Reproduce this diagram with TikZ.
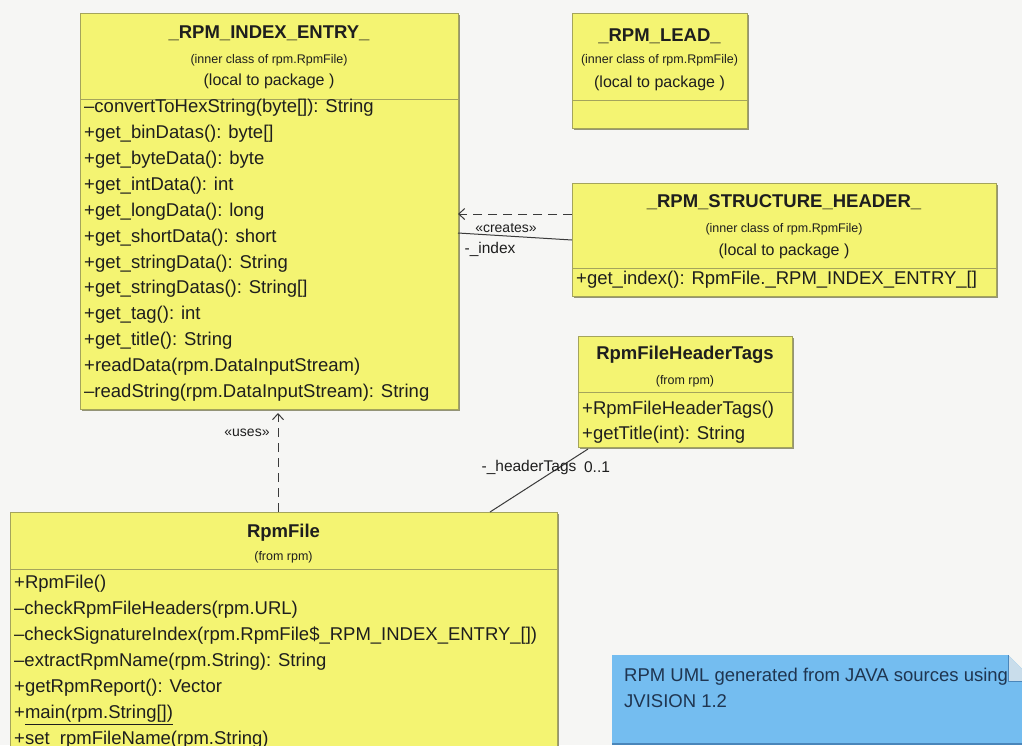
\documentclass[tikz,border=0pt]{standalone}
\usepackage{fontspec}
\setmainfont{Liberation Sans}
\usetikzlibrary{arrows.meta,shadows}
\definecolor{bgc}{HTML}{F6F6F4}
\definecolor{umlyellow}{HTML}{F4F472}
\definecolor{boxline}{HTML}{A4A45C}
\definecolor{boxshade}{HTML}{8A8A6A}
\definecolor{inkc}{HTML}{1E1E1E}
\definecolor{notec}{HTML}{74BDF0}
\definecolor{notefold}{HTML}{C9DDEB}
\definecolor{noteline}{HTML}{4A86BA}
\definecolor{noteink}{HTML}{1F3550}
\definecolor{wirec}{HTML}{3A3A3A}

\begin{document}
\begin{tikzpicture}[x=1pt,y=-1pt,
  classbox/.style={draw=boxline, fill=umlyellow, line width=0.8pt, anchor=north west,
    inner sep=0pt, outer sep=0pt,
    drop shadow={shadow xshift=2pt, shadow yshift=-2pt, fill=boxshade, opacity=0.9}},
  title/.style={font=\fontsize{18.5}{22}\selectfont\bfseries, text=inkc, inner sep=0pt,
    text height=13.3pt, text depth=0pt},
  member/.style={font=\fontsize{18.5}{22}\selectfont, text=inkc, inner sep=0pt, anchor=west,
    text height=13.3pt, text depth=0pt},
  tinytxt/.style={font=\fontsize{12.5}{14}\selectfont, text=inkc, inner sep=0pt,
    text height=9pt, text depth=0pt},
  pkgtxt/.style={font=\fontsize{16}{18}\selectfont, text=inkc, inner sep=0pt,
    text height=11.5pt, text depth=0pt},
  septr/.style={draw=boxline, line width=0.8pt},
  dep/.style={draw=wirec, line width=1pt, dash pattern=on 9pt off 6pt,
    -{Straight Barb[length=6pt,width=11pt]}},
  assoc/.style={draw=wirec, line width=1pt},
  lbl/.style={font=\fontsize{14}{16}\selectfont, text=inkc, inner sep=0pt},
  rolelbl/.style={font=\fontsize{15.5}{18}\selectfont, text=inkc, inner sep=0pt},
  notetxt/.style={font=\fontsize{18.5}{22}\selectfont, text=noteink, inner sep=0pt, anchor=west,
    text height=13.3pt, text depth=0pt}
]
\useasboundingbox (0,0) rectangle (1022,745);
\fill[bgc] (0,0) rectangle (1022,745);
\clip (0,0) rectangle (1022,745);

% ---------- _RPM_INDEX_ENTRY_ ----------
\node[classbox, minimum width=378pt, minimum height=396pt] (ie) at (80,13) {};
\node[title]   (ie-t) at (269,32) {\_RPM\_INDEX\_ENTRY\_};
\node[tinytxt] (ie-i) at (269,59) {(inner class of rpm.RpmFile)};
\node[pkgtxt]  (ie-p) at (269,80) {(local to package )};
\draw[septr] (ie.west |- ie-p.south) ++(0,13) coordinate (ie-s) -- (ie-s -| ie.east);
\foreach \m [count=\i from 0] in {
  {\textendash convertToHexString(byte[]): String},
  {+get\_binDatas(): byte[]},
  {+get\_byteData(): byte},
  {+get\_intData(): int},
  {+get\_longData(): long},
  {+get\_shortData(): short},
  {+get\_stringData(): String},
  {+get\_stringDatas(): String[]},
  {+get\_tag(): int},
  {+get\_title(): String},
  {+readData(rpm.DataInputStream)},
  {\textendash readString(rpm.DataInputStream): String}}
  \node[member] (ie-m\i) at (84,106+25.9*\i) {\m};

% ---------- _RPM_LEAD_ ----------
\node[classbox, minimum width=175pt, minimum height=115pt] (ld) at (572,13) {};
\node[title]   (ld-t) at (659.5,35) {\_RPM\_LEAD\_};
\node[tinytxt] (ld-i) at (659.5,59) {(inner class of rpm.RpmFile)};
\node[pkgtxt]  (ld-p) at (659.5,82) {(local to package )};
\draw[septr] (ld.west |- ld-p.south) ++(0,12) coordinate (ld-s) -- (ld-s -| ld.east);

% ---------- _RPM_STRUCTURE_HEADER_ ----------
\node[classbox, minimum width=424pt, minimum height=113pt] (sh) at (572,183) {};
\node[title]   (sh-t) at (784,201) {\_RPM\_STRUCTURE\_HEADER\_};
\node[tinytxt] (sh-i) at (784,228) {(inner class of rpm.RpmFile)};
\node[pkgtxt]  (sh-p) at (784,250) {(local to package )};
\draw[septr] (sh.west |- sh-p.south) ++(0,12) coordinate (sh-s) -- (sh-s -| sh.east);
\node[member] (sh-m0) at (576,278) {+get\_index(): RpmFile.\_RPM\_INDEX\_ENTRY\_[]};

% ---------- RpmFileHeaderTags ----------
\node[classbox, minimum width=214pt, minimum height=111pt] (ht) at (578,336) {};
\node[title]   (ht-t) at (685,353) {RpmFileHeaderTags};
\node[tinytxt] (ht-f) at (685,380) {(from rpm)};
\draw[septr] (ht.west |- ht-f.south) ++(0,8) coordinate (ht-s) -- (ht-s -| ht.east);
\node[member] (ht-m0) at (582,408) {+RpmFileHeaderTags()};
\node[member] (ht-m1) at (582,433) {+getTitle(int): String};

% ---------- RpmFile ----------
\node[classbox, minimum width=547pt, minimum height=300pt] (rf) at (10,512) {};
\node[title]   (rf-t) at (283.5,531) {RpmFile};
\node[tinytxt] (rf-f) at (283.5,556) {(from rpm)};
\draw[septr] (rf.west |- rf-f.south) ++(0,9) coordinate (rf-s) -- (rf-s -| rf.east);
\foreach \m [count=\i from 0] in {
  {+RpmFile()},
  {\textendash checkRpmFileHeaders(rpm.URL)},
  {\textendash checkSignatureIndex(rpm.RpmFile\$\_RPM\_INDEX\_ENTRY\_[])},
  {\textendash extractRpmName(rpm.String): String},
  {+getRpmReport(): Vector},
  {+\underline{main(rpm.String[])}},
  {+set\_rpmFileName(rpm.String)}}
  \node[member] (rf-m\i) at (14,582+26*\i) {\m};

% ---------- note ----------
\coordinate (nt-a) at (612,655);
\coordinate (nt-b) at (1008,655);
\coordinate (nt-c) at (1034,681);
\coordinate (nt-d) at (1034,744);
\coordinate (nt-e) at (612,744);
\fill[notec] (nt-a) -- (nt-b) -- (nt-c) -- (nt-d) -- (nt-e) -- cycle;
\fill[notefold] (nt-b) -- (nt-b |- nt-c) -- (nt-c) -- cycle;
\draw[noteline, line width=1pt] (nt-b) -- (nt-b |- nt-c) -- (nt-c);
\draw[noteline, line width=1.2pt] (nt-e) -- (nt-d);
\node[notetxt] (nt-l1) at (624,675) {RPM UML generated from JAVA sources using};
\node[notetxt] (nt-l2) at (624,701) {JVISION 1.2};

% ---------- connectors ----------
% creates dependency
\coordinate (cr-a) at ([yshift=-31pt]sh.north west);
\draw[dep] (cr-a) -- (cr-a -| ie.east);
\node[lbl] (cr-l) at (506,228) {«creates»};
% _index association
\coordinate (ix-a) at ([yshift=-57pt]sh.north west);
\coordinate (ix-b) at ([yshift=-220pt]ie.north east);
\draw[assoc] (ix-a) -- (ix-b);
\node[rolelbl] (ix-l) at (490,249) {-\_index};
% uses dependency
\coordinate (us-a) at ([xshift=268pt]rf.north west);
\coordinate (us-b) at ([yshift=-4pt]ie.south);
\draw[dep] (us-a) -- (us-a |- us-b);
\node[lbl] (us-l) at (247,433) {«uses»};
% _headerTags association
\coordinate (hd-a) at ([xshift=480pt]rf.north west);
\coordinate (hd-b) at ([xshift=10pt,yshift=-2pt]ht.south west);
\draw[assoc] (hd-a) -- (hd-b);
\node[rolelbl] (hd-l) at (529,467) {-\_headerTags};
\node[rolelbl] (hd-m) at (597,467) {0..1};
\end{tikzpicture}
\end{document}
